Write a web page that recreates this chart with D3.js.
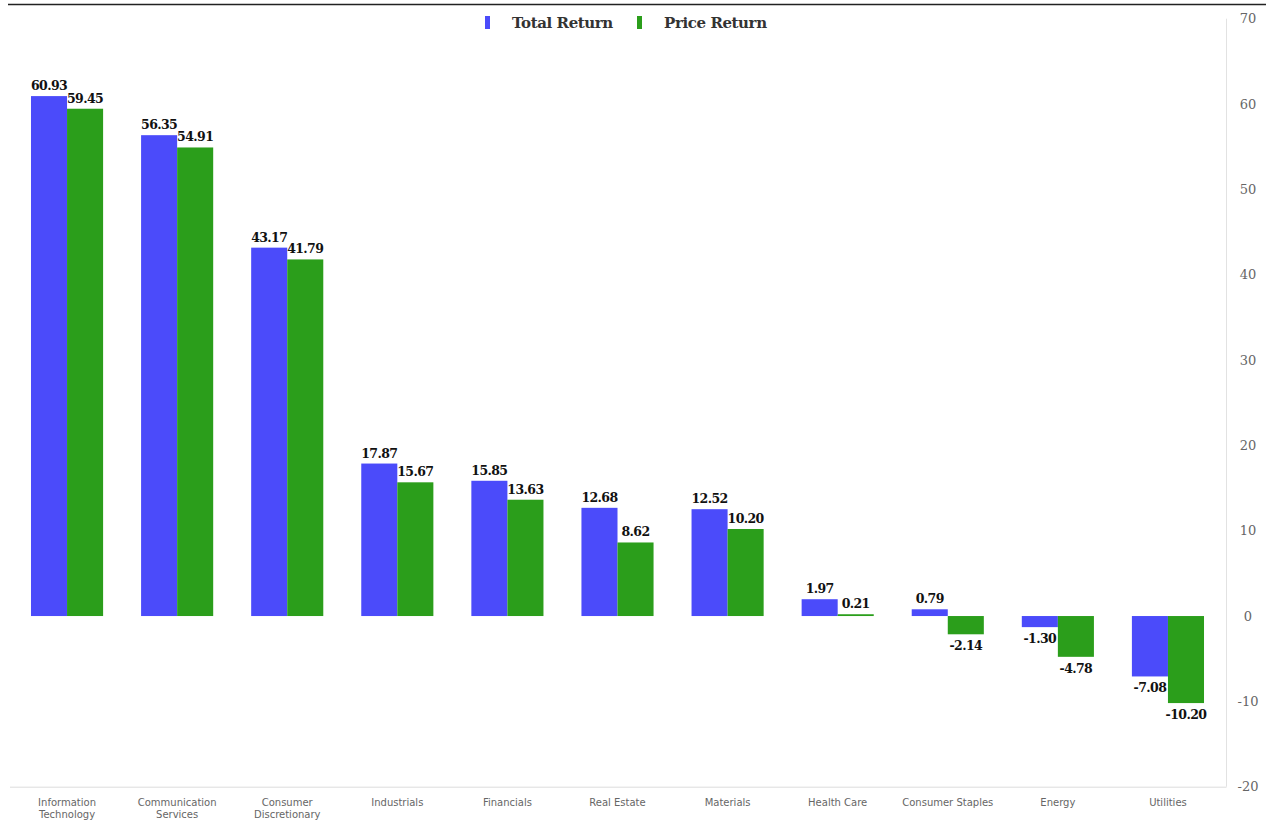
<!DOCTYPE html>
<html>
<head>
<meta charset="utf-8">
<script src="https://cdn.jsdelivr.net/npm/d3@7/dist/d3.min.js"></script>
<style>
  html, body { margin: 0; padding: 0; background: #fff; }
  svg { display: block; }
</style>
</head>
<body>
<svg id="chart" width="1270" height="823"></svg>
<script>
// Sector returns (%)
const sectors = [
  "Information Technology", "Communication Services", "Consumer Discretionary",
  "Industrials", "Financials", "Real Estate", "Materials", "Health Care",
  "Consumer Staples", "Energy", "Utilities"
];
const sectorLines = [
  ["Information", "Technology"], ["Communication", "Services"], ["Consumer", "Discretionary"],
  ["Industrials"], ["Financials"], ["Real Estate"], ["Materials"], ["Health Care"],
  ["Consumer Staples"], ["Energy"], ["Utilities"]
];
const totalReturn = [60.93, 56.35, 43.17, 17.87, 15.85, 12.68, 12.52, 1.97, 0.79, -1.30, -7.08];
const priceReturn = [59.45, 54.91, 41.79, 15.67, 13.63, 8.62, 10.20, 0.21, -2.14, -4.78, -10.20];
const seriesNames = ["Total Return", "Price Return"];
const seriesColors = ["#4b4bfa", "#2b9e1b"];
const yTicks = [-20, -10, 0, 10, 20, 30, 40, 50, 60, 70];

const svg = d3.select("#chart");

const x0 = d3.scaleBand().domain(sectors).range([12, 1223]).paddingInner(0.345).paddingOuter(0.1725);
const x1 = d3.scaleBand().domain(seriesNames).range([0, x0.bandwidth()]);
const y = d3.scaleLinear().domain([-20, 70]).range([786.7, 18.7]);

// top rule
svg.append("line").attr("x1", 8).attr("x2", 1266).attr("y1", 4.5).attr("y2", 4.5)
  .attr("stroke", "#222").attr("stroke-width", 1.3);

// frame lines
svg.append("line").attr("x1", 1226.5).attr("x2", 1226.5).attr("y1", y(70)).attr("y2", y(-20))
  .attr("stroke", "#e2e2e2");
svg.append("line").attr("x1", 10).attr("x2", 1226.5).attr("y1", y(-20) + 0.5).attr("y2", y(-20) + 0.5)
  .attr("stroke", "#dcdcdc");

// right axis
const yAxis = svg.append("g").attr("transform", "translate(1226,0)")
  .call(d3.axisRight(y).tickValues(yTicks).tickSize(0).tickPadding(10).tickFormat(d => String(d)));
yAxis.select(".domain").remove();
yAxis.selectAll("text").attr("font-family", "'DejaVu Serif', serif").attr("font-size", 13)
  .attr("fill", "#666").attr("text-anchor", "middle").attr("dx", 12);

// bars
const rows = sectors.map((s, i) => ({ sector: s, values: [totalReturn[i], priceReturn[i]] }));
const groups = svg.append("g").selectAll("g").data(rows).join("g")
  .attr("transform", d => `translate(${x0(d.sector)},0)`);

groups.selectAll("rect").data(d => d.values.map((v, k) => ({ v, k }))).join("rect")
  .attr("x", d => x1(seriesNames[d.k]))
  .attr("width", x1.bandwidth())
  .attr("y", d => y(Math.max(0, d.v)))
  .attr("height", d => Math.abs(y(d.v) - y(0)))
  .attr("fill", d => seriesColors[d.k]);

groups.selectAll("text.val").data(d => d.values.map((v, k) => ({ v, k }))).join("text")
  .attr("class", "val")
  .attr("x", d => x1(seriesNames[d.k]) + x1.bandwidth() / 2)
  .attr("y", d => d.v >= 0 ? y(d.v) - 6 : y(d.v) + 16)
  .attr("text-anchor", "middle")
  .attr("font-family", "'DejaVu Serif', serif")
  .attr("font-weight", "bold")
  .attr("font-size", 12.5)
  .attr("letter-spacing", -0.6)
  .attr("fill", "#111")
  .text(d => d.v.toFixed(2));

// category labels
const cat = svg.append("g").selectAll("text").data(sectors).join("text")
  .attr("x", d => x0(d) + x0.bandwidth() / 2)
  .attr("y", 806)
  .attr("text-anchor", "middle")
  .attr("font-family", "'DejaVu Sans', sans-serif")
  .attr("font-size", 10)
  .attr("fill", "#666");
cat.each(function(d, i) {
  const t = d3.select(this);
  sectorLines[i].forEach((line, j) => {
    t.append("tspan").attr("x", x0(d) + x0.bandwidth() / 2).attr("dy", j === 0 ? 0 : 12).text(line);
  });
});

// legend
const legendX = [485, 637];
const lg = svg.append("g");
seriesNames.forEach((name, k) => {
  lg.append("rect").attr("x", legendX[k]).attr("y", 16).attr("width", 5).attr("height", 13)
    .attr("fill", seriesColors[k]);
  lg.append("text").attr("x", legendX[k] + 27).attr("y", 28)
    .attr("font-family", "'DejaVu Serif', serif").attr("font-weight", "bold").attr("font-size", 15)
    .attr("letter-spacing", -0.4)
    .attr("fill", "#333").text(name);
});
</script>
</body>
</html>
